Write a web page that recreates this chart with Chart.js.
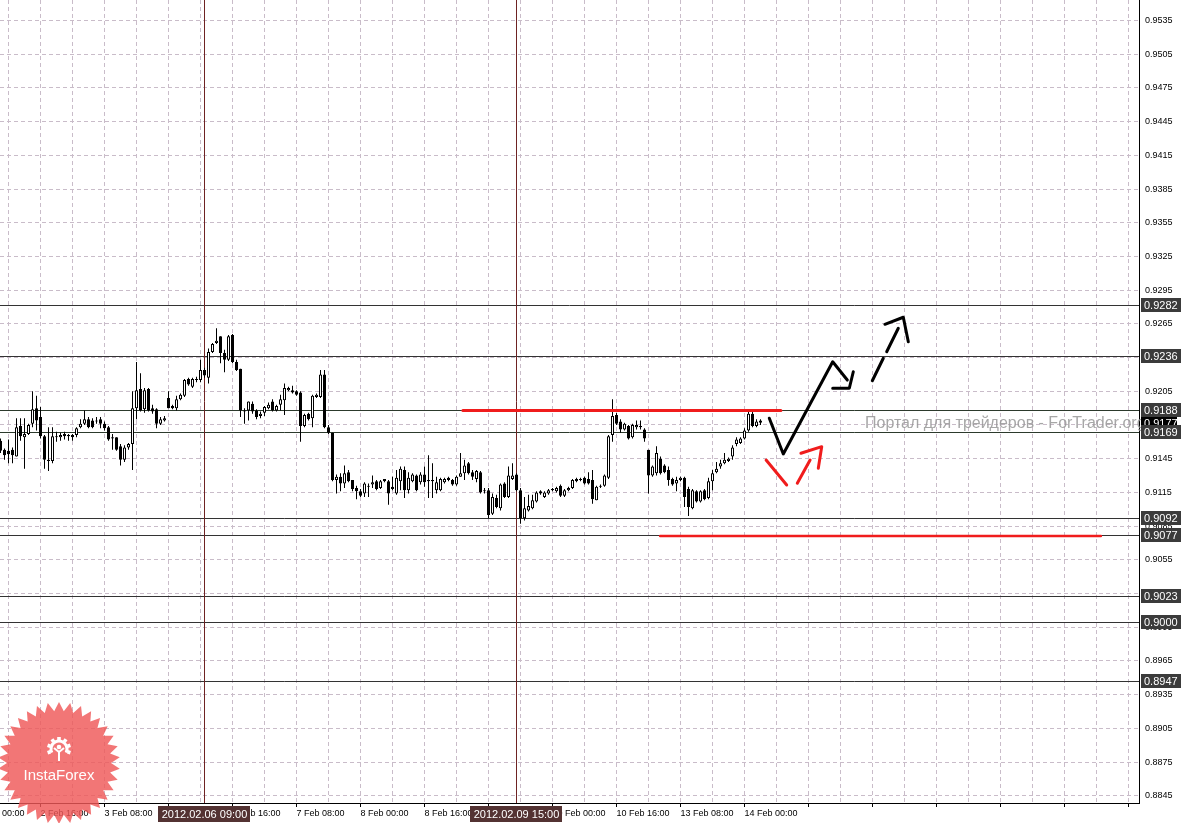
<!DOCTYPE html>
<html><head><meta charset="utf-8">
<script src="https://cdn.jsdelivr.net/npm/chart.js@4.4.1/dist/chart.umd.min.js"></script>
<style>html,body{margin:0;padding:0;background:#fff;overflow:hidden}canvas{display:block}</style>
</head><body>
<canvas id="c" width="1181" height="823"></canvas>
<script>
// ---- hourly candles (bar index 0..190), 2 Feb .. 14 Feb 2012 ----
const opens = [
0.9161,0.9153,0.9152,0.9153,0.9147,0.9174,0.9164,0.9167,0.9176,0.9190,
0.9182,0.9165,0.9143,0.9143,0.9165,0.9164,0.9167,0.9165,0.9166,0.9166,
0.9173,0.9176,0.9180,0.9179,0.9179,0.9180,0.9176,0.9173,0.9164,0.9164,
0.9156,0.9144,0.9155,0.9158,0.9190,0.9207,0.9189,0.9207,0.9190,0.9189,
0.9176,0.9179,0.9199,0.9192,0.9190,0.9198,0.9201,0.9216,0.9209,0.9216,
0.9215,0.9224,0.9217,0.9240,0.9248,0.9254,0.9239,0.9233,0.9255,0.9231,
0.9225,0.9188,0.9188,0.9194,0.9188,0.9183,0.9186,0.9190,0.9196,0.9188,
0.9193,0.9197,0.9206,0.9206,0.9205,0.9204,0.9174,0.9185,0.9181,0.9200,
0.9200,0.9220,0.9173,0.9168,0.9126,0.9129,0.9123,0.9133,0.9126,0.9119,
0.9116,0.9114,0.9121,0.9122,0.9125,0.9119,0.9127,0.9125,0.9120,0.9114,
0.9125,0.9135,0.9117,0.9125,0.9130,0.9124,0.9131,0.9126,0.9126,0.9117,
0.9117,0.9124,0.9128,0.9126,0.9122,0.9129,0.9132,0.9141,0.9133,0.9127,
0.9133,0.9117,0.9117,0.9096,0.9110,0.9101,0.9123,0.9111,0.9127,0.9131,
0.9117,0.9092,0.9099,0.9101,0.9107,0.9116,0.9111,0.9114,0.9117,0.9116,
0.9121,0.9112,0.9117,0.9119,0.9127,0.9126,0.9128,0.9127,0.9126,0.9108,
0.9120,0.9121,0.9128,0.9166,0.9184,0.9178,0.9171,0.9174,0.9164,0.9173,
0.9174,0.9171,0.9153,0.9130,0.9132,0.9145,0.9139,0.9135,0.9127,0.9123,
0.9126,0.9128,0.9118,0.9101,0.9116,0.9107,0.9117,0.9110,0.9125,0.9133,
0.9138,0.9141,0.9143,0.9147,0.9158,0.9159,0.9163,0.9170,0.9185,0.9174,0.9179];
const highs = [
0.9163,0.9154,0.9162,0.9155,0.9181,0.9181,0.9181,0.9176,0.9205,0.9201,
0.9191,0.9166,0.9173,0.9173,0.9169,0.9168,0.9169,0.9167,0.9167,0.9173,
0.9180,0.9188,0.9182,0.9181,0.9182,0.9182,0.9178,0.9174,0.9167,0.9164,
0.9158,0.9157,0.9159,0.9205,0.9231,0.9221,0.9208,0.9208,0.9193,0.9190,
0.9182,0.9183,0.9205,0.9193,0.9201,0.9203,0.9216,0.9217,0.9217,0.9218,
0.9233,0.9226,0.9243,0.9248,0.9261,0.9254,0.9242,0.9255,0.9256,0.9233,
0.9225,0.9190,0.9196,0.9196,0.9189,0.9187,0.9192,0.9195,0.9198,0.9193,
0.9202,0.9212,0.9209,0.9210,0.9206,0.9205,0.9185,0.9186,0.9202,0.9203,
0.9224,0.9224,0.9175,0.9168,0.9131,0.9132,0.9139,0.9135,0.9126,0.9121,
0.9118,0.9124,0.9123,0.9130,0.9126,0.9126,0.9127,0.9126,0.9129,0.9135,
0.9138,0.9138,0.9133,0.9132,0.9131,0.9133,0.9138,0.9148,0.9141,0.9129,
0.9128,0.9128,0.9129,0.9127,0.9130,0.9150,0.9144,0.9142,0.9135,0.9135,
0.9134,0.9119,0.9119,0.9114,0.9113,0.9123,0.9124,0.9138,0.9141,0.9132,
0.9119,0.9111,0.9113,0.9113,0.9116,0.9117,0.9116,0.9118,0.9119,0.9120,
0.9122,0.9118,0.9120,0.9127,0.9128,0.9128,0.9129,0.9133,0.9135,0.9121,
0.9122,0.9131,0.9166,0.9198,0.9186,0.9180,0.9177,0.9175,0.9176,0.9179,
0.9179,0.9172,0.9153,0.9139,0.9156,0.9147,0.9140,0.9138,0.9128,0.9129,
0.9129,0.9129,0.9120,0.9118,0.9117,0.9117,0.9118,0.9128,0.9135,0.9142,
0.9144,0.9150,0.9146,0.9157,0.9164,0.9164,0.9172,0.9189,0.9187,0.9180,0.9180];
const lows = [
0.9150,0.9144,0.9141,0.9141,0.9147,0.9161,0.9136,0.9166,0.9173,0.9170,
0.9163,0.9136,0.9134,0.9141,0.9160,0.9161,0.9162,0.9161,0.9161,0.9164,
0.9172,0.9175,0.9172,0.9172,0.9176,0.9172,0.9170,0.9161,0.9153,0.9152,
0.9139,0.9142,0.9153,0.9135,0.9180,0.9187,0.9186,0.9187,0.9185,0.9172,
0.9175,0.9178,0.9190,0.9189,0.9188,0.9197,0.9200,0.9210,0.9208,0.9213,
0.9213,0.9217,0.9212,0.9239,0.9247,0.9230,0.9222,0.9232,0.9230,0.9223,
0.9182,0.9176,0.9179,0.9185,0.9180,0.9181,0.9183,0.9189,0.9187,0.9187,
0.9188,0.9184,0.9205,0.9203,0.9201,0.9160,0.9173,0.9179,0.9173,0.9199,
0.9199,0.9172,0.9167,0.9125,0.9114,0.9116,0.9119,0.9124,0.9116,0.9109,
0.9111,0.9111,0.9111,0.9119,0.9117,0.9118,0.9124,0.9104,0.9117,0.9113,
0.9117,0.9110,0.9114,0.9124,0.9116,0.9122,0.9120,0.9110,0.9110,0.9114,
0.9116,0.9123,0.9125,0.9121,0.9121,0.9129,0.9126,0.9131,0.9126,0.9124,
0.9114,0.9114,0.9092,0.9095,0.9101,0.9099,0.9110,0.9110,0.9126,0.9116,
0.9087,0.9090,0.9098,0.9100,0.9106,0.9113,0.9110,0.9113,0.9116,0.9115,
0.9111,0.9111,0.9116,0.9118,0.9124,0.9125,0.9122,0.9122,0.9105,0.9108,
0.9119,0.9120,0.9127,0.9160,0.9175,0.9168,0.9170,0.9162,0.9163,0.9171,
0.9171,0.9160,0.9114,0.9129,0.9130,0.9131,0.9132,0.9121,0.9121,0.9116,
0.9125,0.9102,0.9094,0.9100,0.9106,0.9106,0.9108,0.9109,0.9117,0.9132,
0.9136,0.9140,0.9142,0.9144,0.9156,0.9158,0.9162,0.9169,0.9173,0.9173,0.9175];
const closes = [
0.9152,0.9148,0.9149,0.9148,0.9173,0.9165,0.9167,0.9175,0.9189,0.9179,
0.9165,0.9144,0.9144,0.9165,0.9164,0.9166,0.9165,0.9166,0.9164,0.9172,
0.9176,0.9180,0.9173,0.9173,0.9178,0.9176,0.9172,0.9162,0.9163,0.9153,
0.9144,0.9155,0.9158,0.9190,0.9206,0.9188,0.9206,0.9188,0.9187,0.9176,
0.9180,0.9181,0.9190,0.9190,0.9198,0.9202,0.9215,0.9211,0.9216,0.9215,
0.9224,0.9219,0.9240,0.9247,0.9250,0.9239,0.9233,0.9254,0.9231,0.9224,
0.9188,0.9187,0.9196,0.9187,0.9182,0.9185,0.9191,0.9193,0.9188,0.9192,
0.9198,0.9208,0.9208,0.9204,0.9202,0.9174,0.9184,0.9180,0.9201,0.9202,
0.9220,0.9173,0.9168,0.9126,0.9129,0.9123,0.9132,0.9125,0.9118,0.9116,
0.9112,0.9123,0.9120,0.9124,0.9118,0.9125,0.9125,0.9114,0.9118,0.9128,
0.9136,0.9117,0.9128,0.9131,0.9117,0.9131,0.9124,0.9125,0.9125,0.9124,
0.9127,0.9127,0.9126,0.9122,0.9129,0.9132,0.9139,0.9132,0.9129,0.9134,
0.9115,0.9116,0.9095,0.9111,0.9102,0.9122,0.9111,0.9130,0.9130,0.9117,
0.9092,0.9101,0.9103,0.9108,0.9115,0.9114,0.9115,0.9117,0.9118,0.9119,
0.9112,0.9117,0.9119,0.9126,0.9125,0.9127,0.9123,0.9123,0.9109,0.9120,
0.9121,0.9130,0.9165,0.9183,0.9176,0.9171,0.9176,0.9163,0.9175,0.9175,
0.9173,0.9163,0.9130,0.9138,0.9150,0.9132,0.9133,0.9126,0.9122,0.9126,
0.9128,0.9111,0.9102,0.9117,0.9107,0.9116,0.9109,0.9125,0.9132,0.9136,
0.9141,0.9144,0.9145,0.9155,0.9162,0.9163,0.9170,0.9185,0.9174,0.9178,0.9177];

// ---- axis labels ----
const timeLabelBars = [-6,10,26,42,58,74,90,106,122,138,154,170,186];
const timeLabels = ['2 Feb 00:00','2 Feb 16:00','3 Feb 08:00','6 Feb 00:00','6 Feb 16:00','7 Feb 08:00',
  '8 Feb 00:00','8 Feb 16:00','9 Feb 08:00','10 Feb 00:00','10 Feb 16:00','13 Feb 08:00','14 Feb 00:00'];
const priceTicks = [0.8845,0.8875,0.8905,0.8935,0.8965,0.8995,0.9025,0.9055,0.9085,0.9115,0.9145,0.9175,
  0.9205,0.9235,0.9265,0.9295,0.9325,0.9355,0.9385,0.9415,0.9445,0.9475,0.9505,0.9535];

// ---- horizontal levels and markers ----
const levels = [0.9282,0.9236,0.9188,0.9169,0.9092,0.9077,0.9023,0.9000,0.8947];
const bidPrice = 0.9177;
const markerBars = [51,129];
const markerLabels = ['2012.02.06 09:00','2012.02.09 15:00'];

// ---- hand-drawn annotations (bar index, price) ----
const resistX = [115.6,195.1], resistY = [0.91879,0.91879];
const supportX = [164.9,275.1], supportY = [0.90762,0.90762];
const blackPathX = [192.2,195.7,208.05,211.7], blackPathY = [0.91810,0.91492,0.92313,0.92150];
const blackHeadX = [208.05,212.2,213.2], blackHeadY = [0.92077,0.92077,0.92224];
const dash1X = [217.95,220.7], dash1Y = [0.92144,0.92344];
const dash2X = [221.55,224.45], dash2Y = [0.92402,0.92611];
const dashHeadX = [221.1,225.7,226.95], dashHeadY = [0.92646,0.92709,0.92491];
const red1X = [191.4,196.55], red1Y = [0.91438,0.91216];
const red2X = [199.2,202.4], red2Y = [0.91231,0.91438];
const redHeadX = [200.1,205.3,204.45], redHeadY = [0.91498,0.91557,0.91365];

const FONT = 'Liberation Sans';
const idx = opens.map((_, i) => i);
const wickData = idx.map(i => ({x: i, y: [lows[i], highs[i]]}));
const bodyData = idx.map(i => ({x: i, y: [opens[i], closes[i]]}));
const bodyColors = idx.map(i => closes[i] > opens[i] ? '#ffffff' : '#000000');
const pts = (xs, ys) => xs.map((x, i) => ({x, y: ys[i]}));
const lineDs = (xs, ys, color, w) => ({type: 'line', data: pts(xs, ys), borderColor: color, borderWidth: w,
  pointRadius: 0, tension: 0, borderJoinStyle: 'round', borderCapStyle: 'round', order: 0, fill: false});

const gridBars = [];
for (let v = -6; v <= 284; v += 8) gridBars.push(v);
const isLabelBar = v => ((v - 10) % 16) === 0;
const noPad = s => { s.paddingLeft = 0; s.paddingRight = 0; s.paddingTop = 0; s.paddingBottom = 0; };

const overlay = {
  id: 'overlay',
  beforeDatasetsDraw(chart) {
    const {ctx, chartArea: a, scales: {x, y}} = chart;
    ctx.save();
    ctx.lineWidth = 1;
    levels.forEach(p => {
      const py = Math.round(y.getPixelForValue(p)) + 0.5;
      ctx.strokeStyle = (p === 0.9188 || p === 0.9169) ? '#2c3a2c' : '#333333';
      ctx.beginPath(); ctx.moveTo(a.left, py); ctx.lineTo(a.right, py); ctx.stroke();
    });
    ctx.strokeStyle = '#6e2323';
    markerBars.forEach(b => {
      const px = Math.round(x.getPixelForValue(b) - 0.5) + 0.5;
      ctx.beginPath(); ctx.moveTo(px, a.top); ctx.lineTo(px, a.bottom); ctx.stroke();
    });
    ctx.restore();
  },
  afterDraw(chart) {
    const {ctx, chartArea: a, scales: {x, y}} = chart;
    ctx.save();
    ctx.font = '16px "' + FONT + '"';
    ctx.fillStyle = 'rgba(150,150,150,0.85)';
    ctx.textBaseline = 'alphabetic'; ctx.textAlign = 'left';
    ctx.fillText('Портал для трейдеров - ForTrader.org', 865, 428);
    ctx.font = '11px "' + FONT + '"';
    ctx.textBaseline = 'middle';
    let by = Math.round(y.getPixelForValue(bidPrice));
    ctx.fillStyle = '#000'; ctx.fillRect(1141, by - 7, 36, 14);
    ctx.fillStyle = '#fff'; ctx.fillText(bidPrice.toFixed(4), 1144, by + 0.5);
    levels.forEach(p => {
      const py = Math.round(y.getPixelForValue(p));
      ctx.fillStyle = '#3b3b3b'; ctx.fillRect(1141, py - 7, 40, 14);
      ctx.fillStyle = '#ffffff'; ctx.fillText(p.toFixed(4), 1144, py + 0.5);
    });
    ctx.textAlign = 'center';
    markerBars.forEach((b, i) => {
      const px = x.getPixelForValue(b);
      const w = Math.ceil(ctx.measureText(markerLabels[i]).width) + 6;
      ctx.fillStyle = '#533232'; ctx.fillRect(Math.round(px - w / 2) - 1, a.bottom + 3, w, 16);
      ctx.fillStyle = '#ffffff'; ctx.fillText(markerLabels[i], px, a.bottom + 11.5);
    });
    // InstaForex logo
    const cx = 59, cy = 763, R = 61, r = 52, n = 34;
    ctx.globalAlpha = 0.82;
    ctx.fillStyle = '#ef5858';
    ctx.beginPath();
    for (let i = 0; i < 2 * n; i++) {
      const ang = Math.PI * i / n - Math.PI / 2;
      const rr = i % 2 === 0 ? R : r;
      ctx.lineTo(cx + rr * Math.cos(ang), cy + rr * Math.sin(ang));
    }
    ctx.closePath(); ctx.fill();
    ctx.globalAlpha = 1;
    ctx.strokeStyle = '#fff'; ctx.fillStyle = '#fff';
    const gx = 59, gy = 749;
    ctx.lineWidth = 3;
    ctx.beginPath(); ctx.arc(gx, gy, 8, Math.PI * 0.85, Math.PI * 2.15); ctx.stroke();
    for (let k = 0; k < 7; k++) {
      const ang = Math.PI * 0.9 + k * Math.PI * 1.2 / 6;
      ctx.save(); ctx.translate(gx + 10.5 * Math.cos(ang), gy + 10.5 * Math.sin(ang)); ctx.rotate(ang);
      ctx.fillRect(-1.5, -1.8, 3, 3.6); ctx.restore();
    }
    ctx.beginPath(); ctx.arc(gx, gy - 2, 2.3, 0, Math.PI * 2); ctx.fill();
    ctx.lineWidth = 2;
    ctx.beginPath(); ctx.moveTo(gx - 5, gy - 1); ctx.lineTo(gx, gy + 3); ctx.lineTo(gx + 5, gy - 1); ctx.stroke();
    ctx.beginPath(); ctx.moveTo(gx, gy + 2); ctx.lineTo(gx, gy + 12); ctx.stroke();
    ctx.font = '15px "' + FONT + '"';
    ctx.textAlign = 'center'; ctx.textBaseline = 'middle';
    ctx.fillText('InstaForex', cx, 776);
    ctx.restore();
  }
};

new Chart(document.getElementById('c'), {
  type: 'bar',
  data: {
    datasets: [
      {type: 'bar', data: wickData, barThickness: 1, backgroundColor: '#000', borderWidth: 0,
       grouped: false, order: 3, inflateAmount: 0},
      {type: 'bar', data: bodyData, barThickness: 3, backgroundColor: bodyColors, borderColor: '#000',
       borderWidth: 1, borderSkipped: false, grouped: false, order: 2, inflateAmount: 0},
      lineDs(resistX, resistY, '#f01c1c', 3),
      lineDs(supportX, supportY, '#f01c1c', 2.5),
      lineDs(blackPathX, blackPathY, '#000', 3),
      lineDs(blackHeadX, blackHeadY, '#000', 3),
      lineDs(dash1X, dash1Y, '#000', 3),
      lineDs(dash2X, dash2Y, '#000', 3),
      lineDs(dashHeadX, dashHeadY, '#000', 3),
      lineDs(red1X, red1Y, '#f01c1c', 3),
      lineDs(red2X, red2Y, '#f01c1c', 3),
      lineDs(redHeadX, redHeadY, '#f01c1c', 3)
    ]
  },
  options: {
    responsive: false, devicePixelRatio: 1, animation: false, events: [],
    layout: {padding: 0, autoPadding: false},
    plugins: {legend: {display: false}, tooltip: {enabled: false}},
    scales: {
      x: {
        type: 'linear', position: 'bottom', min: -0.125, max: 284.625, bounds: 'data', offset: false,
        afterBuildTicks: s => { s.ticks = gridBars.map(v => ({value: v})); },
        afterFit: s => { s.height = 20; noPad(s); },
        grid: {offset: false, color: '#c9bcc9', lineWidth: 1, drawTicks: true, tickLength: 4, tickWidth: 1,
               tickColor: c => (c.tick && isLabelBar(c.tick.value)) ? '#000' : 'rgba(0,0,0,0)'},
        border: {display: true, color: '#000', width: 1, dash: [4, 3]},
        ticks: {autoSkip: false, maxRotation: 0, minRotation: 0, align: 'start', padding: 1,
                color: '#000', font: {family: FONT, size: 9},
                callback: v => { const k = timeLabelBars.indexOf(v); return k >= 0 ? timeLabels[k] : ''; }}
      },
      y: {
        type: 'linear', position: 'right', min: 0.883857, max: 0.955324, bounds: 'data', offset: false,
        afterBuildTicks: s => { s.ticks = priceTicks.map(v => ({value: v})); },
        afterFit: s => { s.width = 42; noPad(s); },
        grid: {color: '#c9bcc9', lineWidth: 1, drawTicks: false, tickLength: 0},
        border: {display: true, color: '#000', width: 1, dash: [4, 3]},
        ticks: {padding: 6, color: '#000', font: {family: FONT, size: 9},
                callback: v => Number(v).toFixed(4)}
      }
    }
  },
  plugins: [overlay]
});
</script>
</body></html>
